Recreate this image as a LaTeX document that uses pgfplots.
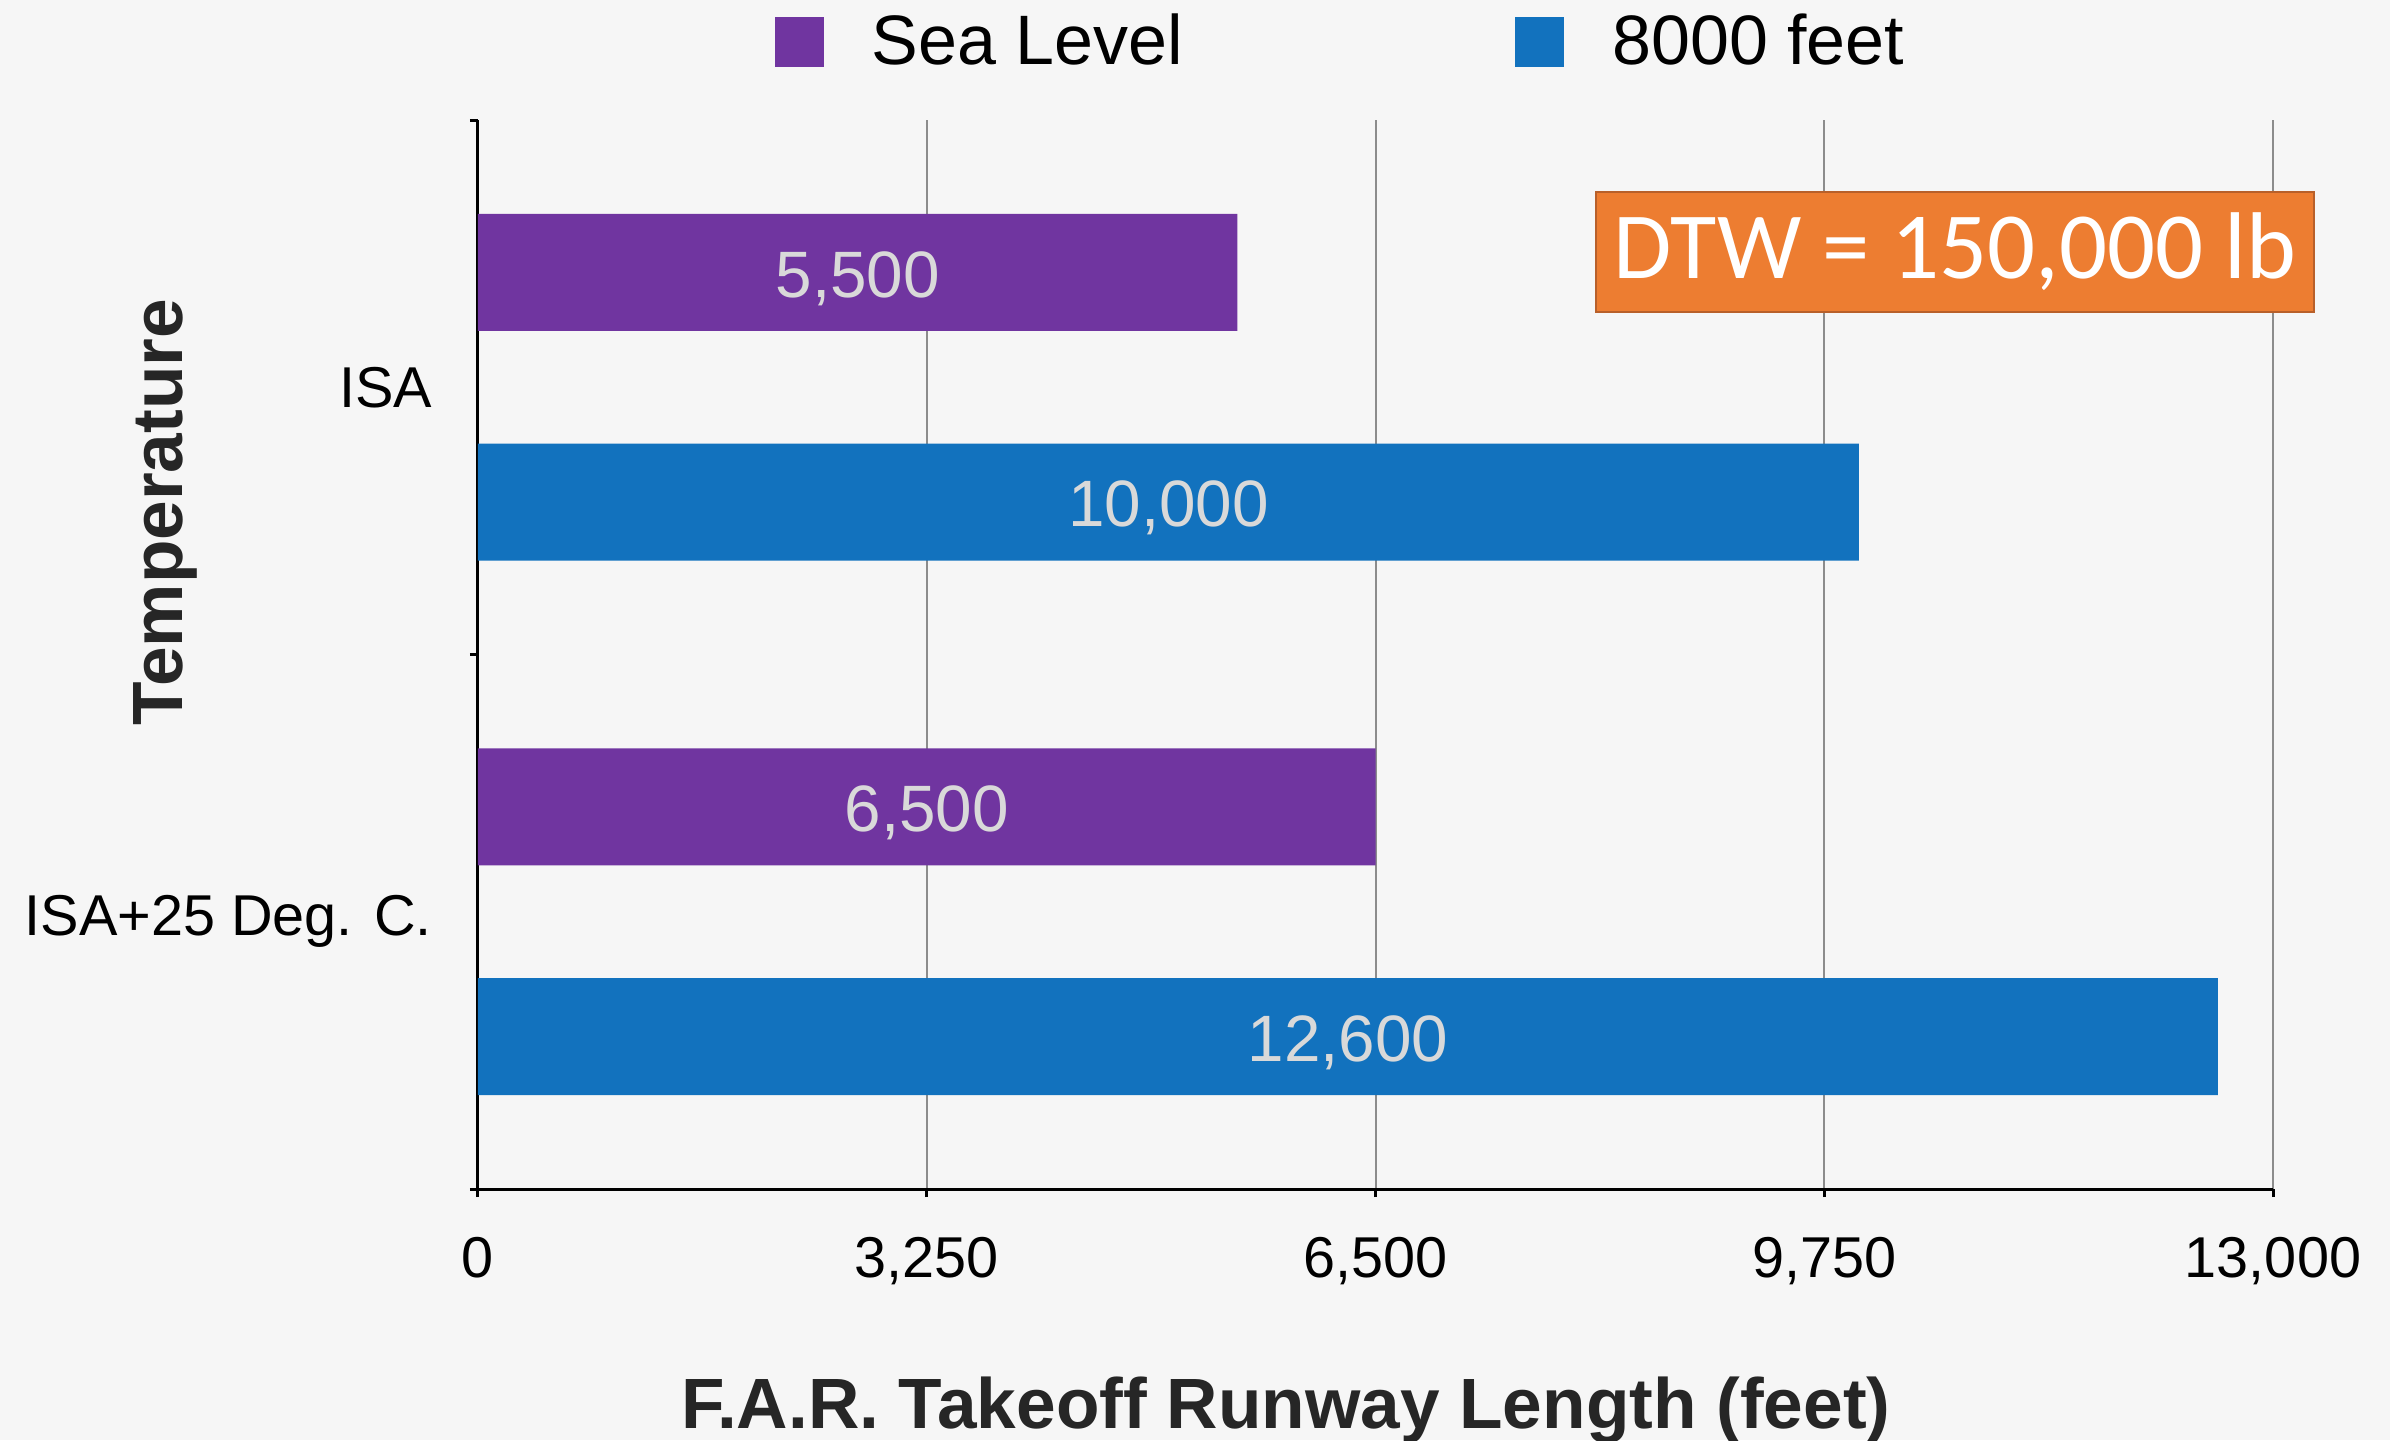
\documentclass[border=0pt]{standalone}
\usepackage{pgfplots}
\pgfplotsset{compat=1.18}
\usepackage{pgfplotstable}
\usepackage{fontspec}
\setmainfont{Liberation Sans}
\newfontfamily\calibri{Carlito}

\definecolor{sealevel}{HTML}{7035A0}
\definecolor{altitude}{HTML}{1272BE}
\definecolor{boxorange}{HTML}{ED7D31}
\definecolor{boxedge}{HTML}{B8602A}
\definecolor{barlabel}{HTML}{D9D9D9}
\definecolor{titlegrey}{HTML}{262626}
\definecolor{gridgrey}{HTML}{8C8C8C}
\definecolor{bg}{HTML}{F6F6F6}

% runway length (feet); cat 1 = ISA, cat 0 = ISA+25 Deg. C.
\pgfplotstableread{
cat len
1 5500
0 6500
}\tabsea
\pgfplotstableread{
cat len
1 10000
0 12600
}\tabalt

\begin{document}
\begin{tikzpicture}[x=1pt,y=1pt]
\fill[bg] (0,0) rectangle (597.5,360);
\begin{axis}[
  at={(119.5pt,62.75pt)}, anchor=south west,
  scale only axis, width=448.75pt, height=267.25pt,
  xmin=0, xmax=13000, ymin=-0.5, ymax=1.5,
  axis x line*=bottom, axis y line*=left,
  axis line style={black, line width=0.75pt, -},
  xtick={0,3250,6500,9750,13000},
  scaled x ticks=false,
  /pgf/number format/.cd, fixed, precision=0, 1000 sep={,}, assume math mode=true,
  /pgfplots/.cd,
  xticklabel style={font=\fontsize{14.4}{16}\selectfont, yshift=-6.5pt},
  xmajorgrids, major grid style={gridgrey, line width=0.5pt},
  tick align=outside, major tick length=2pt,
  tick style={black, line width=0.75pt},
  ytick={-0.5,0.5,1.5}, yticklabels={,,},
  extra y ticks={0,1},
  extra y tick labels={ISA+25 Deg. C.,ISA},
  extra y tick style={major tick length=0pt, grid=none,
    yticklabel style={font=\fontsize{14.4}{16}\selectfont, xshift=-8pt}},
  bar width=0.219,
  legend columns=2,
  legend style={at={(0.165,1.073)}, anchor=west, draw=none, fill=none,
    inner sep=0pt, font=\fontsize{17.5}{20}\selectfont,
    /tikz/every odd column/.append style={column sep=10pt},
    /tikz/every even column/.append style={column sep=81pt}},
  legend cell align=left,
  legend image code/.code={%
    \fill[#1] (0pt,-6.25pt) rectangle (12.25pt,6.25pt);},
  every node near coord/.append style={anchor=center, text=barlabel,
    yshift=-1.5pt, font=\fontsize{16.4}{18}\selectfont},
]
\addplot[xbar, bar shift=0pt, fill=sealevel, draw=none]
  table[x=len, y expr=\thisrow{cat}+0.215] {\tabsea};
\addlegendentry{Sea Level}
\addplot[xbar, bar shift=0pt, fill=altitude, draw=none]
  table[x=len, y expr=\thisrow{cat}-0.215] {\tabalt};
\addlegendentry{8000 feet}

% value labels, centred in each bar
\addplot[draw=none, mark=none, forget plot, nodes near coords, point meta=explicit]
  table[x expr=\thisrow{len}/2, y expr=\thisrow{cat}+0.215, meta=len] {\tabsea};
\addplot[draw=none, mark=none, forget plot, nodes near coords, point meta=explicit]
  table[x expr=\thisrow{len}/2, y expr=\thisrow{cat}-0.215, meta=len] {\tabalt};
\end{axis}

\node[fill=boxorange, draw=boxedge, line width=0.6pt, minimum width=179.5pt,
  minimum height=30pt, inner sep=0pt, text=white,
  font=\calibri\fontsize{23.7}{28}\selectfont] at (488.75,297) {DTW = 150,000 lb};

\node[rotate=90, text=titlegrey, font=\bfseries\fontsize{17.8}{20}\selectfont]
  at (41.25,232) {Temperature};
\node[anchor=base, text=titlegrey, font=\bfseries\fontsize{17.8}{20}\selectfont]
  at (321.5,3) {F.A.R. Takeoff Runway Length (feet)};

\pgfresetboundingbox
\path[use as bounding box] (0,0) rectangle (597.5,360);
\end{tikzpicture}
\end{document}
